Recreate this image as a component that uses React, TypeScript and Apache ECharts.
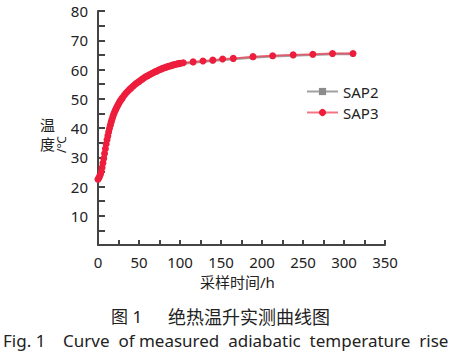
import React, { useEffect, useRef } from "react";
import * as echarts from "echarts";

// Time (h) and measured adiabatic temperature (°C)
const times3 = [0, 1, 2, 3, 4, 5, 6, 7, 8, 9, 10, 11, 12, 13, 14, 15, 16, 17, 18, 19, 20, 21, 22, 23, 24, 25, 26, 27, 28, 29, 30, 32, 34, 36, 38, 40, 42, 44, 46, 48, 50, 52, 54, 56, 58, 60, 62, 64, 66, 68, 70, 72, 74, 76, 78, 80, 82, 84, 86, 88, 90, 92, 94, 96, 98, 100, 104, 116, 128, 140, 152, 165, 189, 213, 238, 262, 286, 311];
const sap3 = [22.5, 22.9, 23.5, 24.2, 25.2, 26.5, 28.0, 29.6, 31.3, 32.9, 34.5, 36.0, 37.3, 38.6, 39.8, 40.9, 42.0, 42.9, 43.8, 44.6, 45.3, 46.0, 46.6, 47.2, 47.7, 48.2, 48.7, 49.2, 49.6, 50.0, 50.4, 51.2, 51.9, 52.5, 53.1, 53.6, 54.1, 54.6, 55.1, 55.5, 55.9, 56.3, 56.7, 57.1, 57.5, 57.8, 58.1, 58.4, 58.7, 59.0, 59.3, 59.5, 59.8, 60.0, 60.3, 60.5, 60.7, 60.9, 61.1, 61.2, 61.4, 61.6, 61.7, 61.9, 62.0, 62.1, 62.3, 62.6, 62.9, 63.2, 63.6, 63.8, 64.4, 64.7, 65.0, 65.2, 65.5, 65.5];
const times2 = [0, 4, 8, 12, 16, 20, 25, 30, 40, 50, 60, 70, 80, 90, 100, 116, 140, 165, 189, 213, 238, 262, 286, 311];
const sap2 = [22.3, 25.0, 31.0, 37.0, 41.8, 45.1, 48.0, 50.2, 53.4, 55.7, 57.6, 59.1, 60.3, 61.2, 61.9, 62.4, 63.0, 63.6, 64.1, 64.5, 64.8, 65.0, 65.3, 65.3];

const xTicks = [0, 50, 100, 150, 200, 250, 300, 350];
const yTicks = [10, 20, 30, 40, 50, 60, 70, 80];

const FONT = "'Noto Sans', 'Noto Sans CJK SC', sans-serif";
const TXT = "#222";

export default function App() {
  const ref = useRef<HTMLDivElement>(null);
  useEffect(() => {
    if (!ref.current) return;
    const chart = echarts.init(ref.current, undefined, { renderer: "svg" });
    chart.setOption({
      animation: false,
      backgroundColor: "#fff",
      textStyle: { fontFamily: FONT },
      grid: { left: 98, right: 66, top: 11, bottom: 115, containLabel: false },
      legend: {
        orient: "vertical",
        left: 301,
        top: 79,
        itemWidth: 31,
        itemHeight: 9,
        itemGap: 6,
        textStyle: { fontSize: 15, color: TXT, fontFamily: FONT },
        data: ["SAP2", "SAP3"],
      },
      xAxis: {
        type: "value",
        min: 0,
        max: 350,
        interval: 25,
        axisLine: { show: true, lineStyle: { color: "#444", width: 2 } },
        axisTick: { show: true, inside: true, length: 5, lineStyle: { color: "#444", width: 2 } },
        splitLine: { show: false },
        axisLabel: {
          margin: 9,
          fontSize: 15,
          color: TXT,
          fontFamily: FONT,
          formatter: (v: number) => (xTicks.includes(v) ? String(v) : ""),
        },
      },
      yAxis: {
        type: "value",
        min: 0,
        max: 80,
        interval: 5,
        axisLine: { show: true, lineStyle: { color: "#444", width: 2 } },
        axisTick: { show: true, inside: true, length: 7, lineStyle: { color: "#444", width: 2 } },
        splitLine: { show: false },
        axisLabel: {
          margin: 10,
          fontSize: 15,
          color: TXT,
          fontFamily: FONT,
          formatter: (v: number) => (yTicks.includes(v) ? String(v) : ""),
        },
      },
      series: [
        {
          name: "SAP2",
          type: "line",
          data: times2.map((t, i) => [t, sap2[i]]),
          symbol: "rect",
          symbolSize: 5,
          showAllSymbol: true,
          lineStyle: { color: "#a0a0a0", width: 2.5 },
          itemStyle: { color: "#8c8c8c" },
          z: 2,
        },
        {
          name: "SAP3",
          type: "line",
          data: times3.map((t, i) => [t, sap3[i]]),
          symbol: "circle",
          symbolSize: 7,
          showAllSymbol: true,
          lineStyle: { color: "rgba(240,70,90,0.75)", width: 2 },
          itemStyle: { color: "#ee1d3c" },
          z: 3,
        },
      ],
      graphic: [
        { type: "text", x: 40, y: 117, style: { text: "温", font: `15px ${FONT}`, fill: TXT } },
        { type: "text", x: 40, y: 136, style: { text: "度", font: `15px ${FONT}`, fill: TXT } },
        {
          type: "text",
          x: 55,
          y: 153,
          rotation: Math.PI / 2,
          style: { text: "/℃", font: `12px ${FONT}`, fill: TXT },
        },
        { type: "text", x: 200, y: 274, style: { text: "采样时间/h", font: `15px ${FONT}`, fill: TXT } },
        { type: "text", x: 111, y: 308, style: { text: "图 1", font: `17px ${FONT}`, fill: TXT } },
        { type: "text", x: 168, y: 308, style: { text: "绝热温升实测曲线图", font: `18px ${FONT}`, fill: TXT } },
        {
          type: "text",
          x: 3,
          y: 332,
          style: {
            text: "Fig. 1    Curve  of measured  adiabatic  temperature  rise",
            font: `17px ${FONT}`,
            fill: TXT,
          },
        },
      ],
    });
    return () => chart.dispose();
  }, []);
  return (
    <div
      ref={ref}
      style={{ position: "absolute", left: 0, top: 0, width: 451, height: 360 }}
    />
  );
}
